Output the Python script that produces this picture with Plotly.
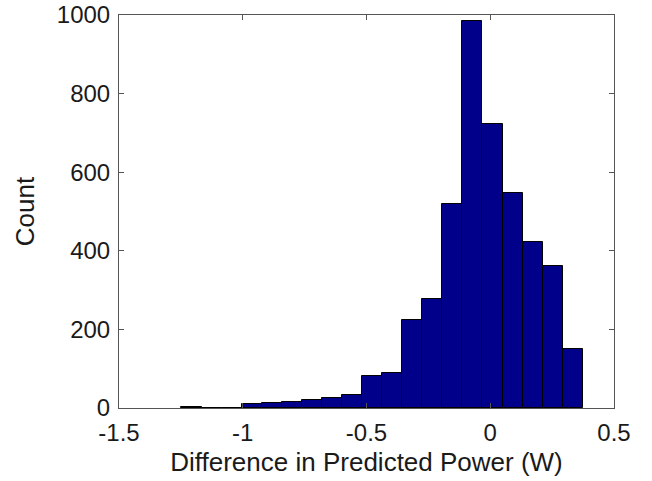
import plotly.graph_objects as go

# Histogram bins (centers in W) and counts
bin_centers = [-1.207, -1.126, -1.045, -0.964, -0.883, -0.802, -0.721, -0.640,
               -0.559, -0.478, -0.397, -0.316, -0.234, -0.153, -0.072, 0.009,
               0.090, 0.171, 0.252, 0.333]
counts = [2, 0, 0, 9, 13, 16, 21, 25, 34, 82, 90, 225, 277, 520, 985, 723,
          548, 423, 362, 149]
bin_width = 0.081

x_ticks = [-1.5, -1, -0.5, 0, 0.5]
x_tick_labels = ["-1.5", "-1", "-0.5", "0", "0.5"]
y_ticks = [0, 200, 400, 600, 800, 1000]
y_tick_labels = ["0", "200", "400", "600", "800", "1000"]

fig = go.Figure(go.Bar(
    x=bin_centers, y=counts, width=bin_width,
    marker=dict(color="#00008B", line=dict(color="#000000", width=1)),
))

font = dict(family="Liberation Sans, Arial, sans-serif", size=24, color="#1a1a1a")
title_font = dict(family="Liberation Sans, Arial, sans-serif", size=26, color="#1a1a1a")

fig.update_layout(
    width=652, height=481,
    margin=dict(l=119, r=38, t=15, b=73, autoexpand=False),
    paper_bgcolor="white", plot_bgcolor="white",
    showlegend=False, bargap=0,
    font=font,
)
fig.update_xaxes(
    range=[-1.5, 0.5], tickvals=x_ticks, ticktext=x_tick_labels,
    ticks="inside", ticklen=5, tickcolor="#555", showline=True, linecolor="#555",
    linewidth=1, mirror="ticks", showgrid=False, zeroline=False, automargin=False,
    ticklabelstandoff=3,
    title=dict(text="Difference in Predicted Power (W)", standoff=8, font=title_font),
    tickfont=font,
)
fig.update_yaxes(
    range=[0, 1000], tickvals=y_ticks, ticktext=y_tick_labels,
    ticks="inside", ticklen=5, tickcolor="#555", showline=True, linecolor="#555",
    linewidth=1, mirror="ticks", showgrid=False, zeroline=False, automargin=False,
    ticklabelstandoff=3,
    title=dict(text="Count", standoff=14, font=title_font),
    tickfont=font,
)

fig.write_html("out.html", config={"displayModeBar": False},
               post_script="document.body.style.margin='0';")
